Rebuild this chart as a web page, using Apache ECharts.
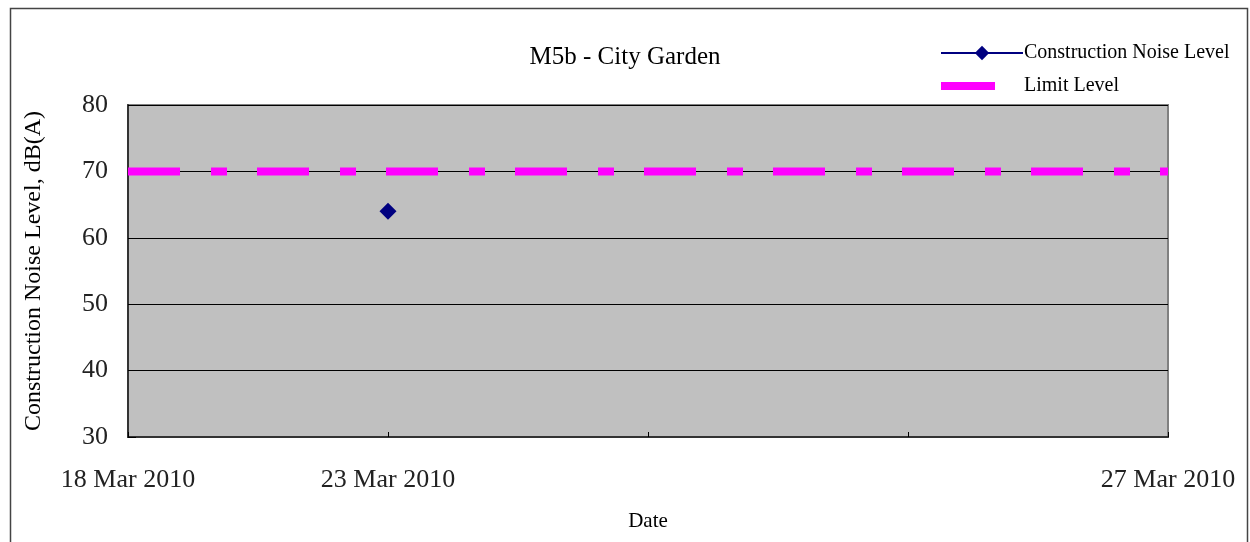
<!DOCTYPE html>
<html>
<head>
<meta charset="utf-8">
<script src="https://cdn.jsdelivr.net/npm/echarts@6/dist/echarts.min.js"></script>
<style>
html, body { margin: 0; padding: 0; background: #fff; }
#main { width: 1250px; height: 542px; }
</style>
</head>
<body>
<div id="main"></div>
<script>
// data
var dateLabels = ['18 Mar 2010', '23 Mar 2010', '', '', '27 Mar 2010'];
var noiseLevel = [null, 64, null, null, null];
var limitLevel = [70, 70, 70, 70, 70];
var yTicks = [30, 40, 50, 60, 70, 80];

var font = '"Liberation Serif", "Times New Roman", serif';

var myChart = echarts.init(document.getElementById('main'));
var option = {
	backgroundColor : '#fff',
	animation : false,
	title : {
		text : 'M5b - City Garden',
		left : 620,
		top : 40,
		textAlign : 'center',
		textStyle : {
			fontFamily : font,
			fontSize : 25,
			fontWeight : 'normal',
			color : '#000'
		}
	},
	legend : {
		orient : 'vertical',
		left : 937,
		top : 43,
		padding : 0,
		itemWidth : 82,
		itemHeight : 18,
		itemGap : 13,
		textStyle : {
			fontFamily : font,
			fontSize : 20,
			color : '#000',
			padding : [0, 0, 0, -4]
		},
		data : [ {
			name : 'Construction Noise Level'
		}, {
			name : 'Limit Level',
			itemStyle : { opacity : 0 },
			lineStyle : { width : 8, type : [ 54, 29, 4, 60 ] }
		} ]
	},
	graphic : [ {
		type : 'rect',
		shape : { x : 10.5, y : 8.5, width : 1237, height : 540 },
		style : { fill : 'none', stroke : '#444', lineWidth : 1.5 },
		silent : true
	} ],
	grid : {
		left : 128,
		right : 82,
		top : 105,
		bottom : 105,
		show : true,
		backgroundColor : '#c0c0c0',
		borderColor : '#808080',
		borderWidth : 2
	},
	xAxis : {
		type : 'category',
		data : dateLabels,
		boundaryGap : false,
		name : 'Date',
		nameLocation : 'middle',
		nameGap : 74,
		nameTextStyle : { fontFamily : font, fontSize : 21, color : '#000' },
		axisLine : { lineStyle : { color : '#333', width : 2 } },
		axisTick : { inside : true, length : 5, lineStyle : { color : '#000' } },
		axisLabel : {
			fontFamily : font,
			fontSize : 26,
			color : '#222',
			margin : 30,
			interval : 0
		},
		splitLine : { show : false }
	},
	yAxis : {
		type : 'value',
		min : yTicks[0],
		max : yTicks[yTicks.length - 1],
		interval : 10,
		name : 'Construction Noise Level, dB(A)',
		nameLocation : 'middle',
		nameGap : 82,
		nameTextStyle : { fontFamily : font, fontSize : 24, color : '#000' },
		axisLine : { show : true, lineStyle : { color : '#333', width : 2 } },
		axisTick : { show : true, inside : true, length : 8, lineStyle : { color : '#000' } },
		axisLabel : {
			fontFamily : font,
			fontSize : 26,
			color : '#222',
			margin : 20
		},
		splitLine : { show : true, lineStyle : { color : '#000', width : 1 } }
	},
	series : [ {
		name : 'Construction Noise Level',
		type : 'line',
		data : noiseLevel,
		symbol : 'diamond',
		symbolSize : 17,
		showSymbol : true,
		connectNulls : false,
		itemStyle : { color : '#000080' },
		lineStyle : { color : '#000080', width : 2 },
		z : 3
	}, {
		name : 'Limit Level',
		type : 'line',
		data : limitLevel,
		symbol : 'none',
		lineStyle : {
			color : '#ff00ff',
			width : 8,
			type : [ 52, 31, 16, 30 ]
		},
		itemStyle : { color : '#ff00ff' },
		z : 2
	} ]
};
myChart.setOption(option);
</script>
</body>
</html>
